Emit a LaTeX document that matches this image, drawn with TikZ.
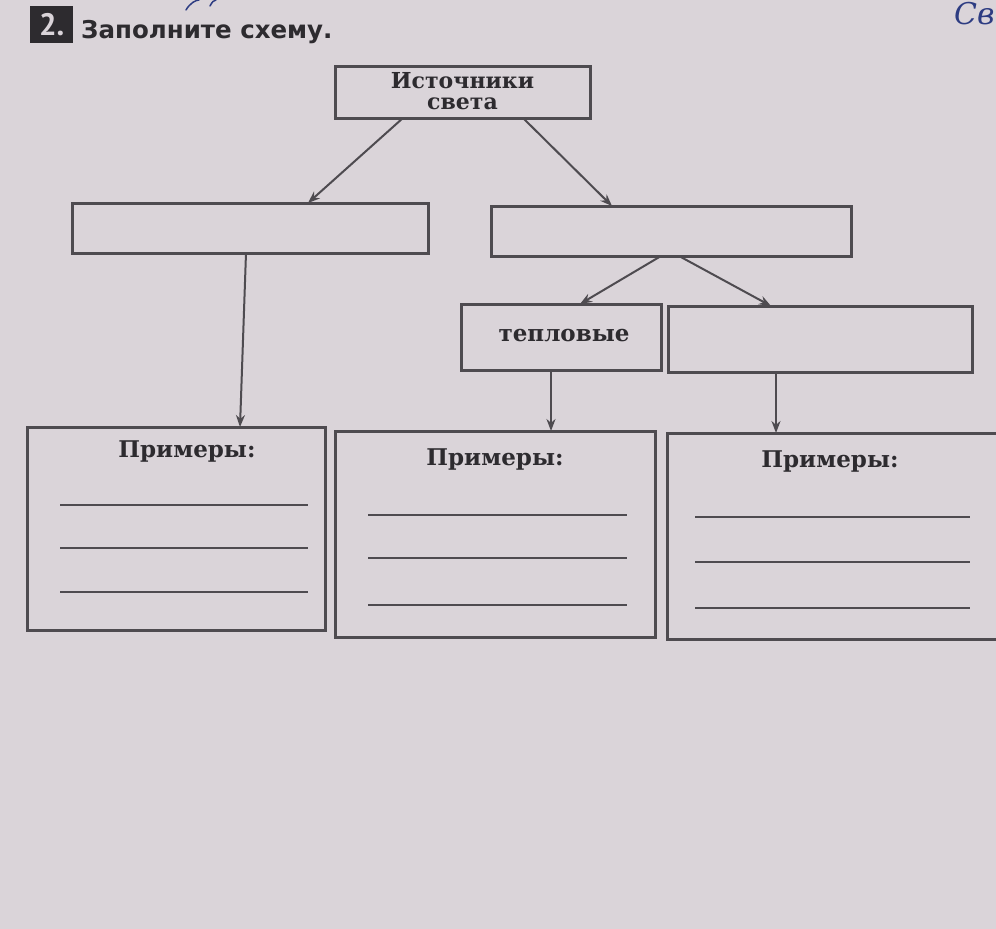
\documentclass[tikz,border=0pt]{standalone}
\usepackage{fontspec}
\setmainfont{DejaVu Serif}
\newfontfamily\titlefont{DejaVu Sans}
\newfontfamily\numfont{PT Sans}
\newfontfamily\handfont{DejaVu Serif}
\usetikzlibrary{arrows.meta,calc}
\definecolor{paper}{RGB}{218,212,217}
\definecolor{ink}{RGB}{45,43,47}
\definecolor{boxline}{RGB}{78,75,80}
\definecolor{pen}{RGB}{45,60,130}
\tikzset{
  box/.style={draw=boxline, line width=3pt, rectangle, inner sep=0pt, outer sep=0pt, anchor=north west},
  arr/.style={draw=boxline, line width=2pt, -{Stealth[length=12pt,width=9pt]}},
  lbl/.style={text=ink, font=\bfseries\fontsize{23}{25}\selectfont, inner sep=0pt},
  fillline/.style={draw=boxline, line width=2pt},
}
\begin{document}
\begin{tikzpicture}[x=1pt,y=-1pt]
\fill[paper] (0,0) rectangle (996,929);
\useasboundingbox (0,0) rectangle (996,929);
% title
\node[fill=ink, minimum width=43pt, minimum height=37pt, inner sep=0pt, anchor=north west, text=paper, font=\numfont\bfseries\fontsize{31}{31}\selectfont] (num) at (30,6) {2.};
\node[anchor=base west, text=ink, font=\titlefont\bfseries\fontsize{24.5}{30}\selectfont, inner sep=0pt] (title) at (81,38) {Заполните схему.};
% handwriting
\node[anchor=base west, text=pen, font=\handfont\itshape\fontsize{30}{30}\selectfont, inner sep=0pt] (hw) at (954,24) {Св};
\draw[pen, line width=1.5pt, line cap=round] (186,10) .. controls (190,3) and (196,0) .. (199,0);
\draw[pen, line width=1.5pt, line cap=round] (210,6) .. controls (212,2) and (214,0) .. (216,0);
% top box
\node[box, minimum width=255pt, minimum height=52pt] (top) at (335,66) {};
\node[lbl, align=center, font=\bfseries\fontsize{22}{21}\selectfont] (toptxt) at ($(top.center)+(0,-1)$) {Источники\\света};
% middle boxes
\node[box, minimum width=356pt, minimum height=50pt] (lm) at (72,203) {};
\node[box, minimum width=360pt, minimum height=50pt] (rm) at (491,206) {};
% third row
\node[box, minimum width=200pt, minimum height=66pt] (tep) at (461,304) {};
\node[lbl] (teptxt) at ($(tep.center)+(3,-1)$) {тепловые};
\node[box, minimum width=304pt, minimum height=66pt] (rs) at (668,306) {};
% bottom boxes
\node[box, minimum width=298pt, minimum height=203pt] (b1) at (27,427) {};
\node[box, minimum width=320pt, minimum height=206pt] (b2) at (335,431) {};
\node[box, minimum width=334pt, minimum height=206pt] (b3) at (667,433) {};
\node[lbl, anchor=north] (p1) at ($(b1.north)+(11,14)$) {Примеры:};
\node[lbl, anchor=north] (p2) at ($(b2.north)+(0,18)$) {Примеры:};
\node[lbl, anchor=north] (p3) at ($(b3.north)+(-4,18)$) {Примеры:};
\foreach \d in {78,121,165}{
  \draw[fillline] ($(b1.north west)+(33,\d)$) -- ($(b1.north west)+(281,\d)$);
}
\foreach \d in {84,127,174}{
  \draw[fillline] ($(b2.north west)+(33,\d)$) -- ($(b2.north west)+(292,\d)$);
}
\foreach \d in {84,129,175}{
  \draw[fillline] ($(b3.north west)+(28,\d)$) -- ($(b3.north west)+(303,\d)$);
}
% arrows
\draw[arr] ($(top.south west)+(68,0)$) -- ($(lm.north west)+(236,0)$);
\draw[arr] ($(top.south west)+(188,0)$) -- ($(rm.north west)+(121,0)$);
\draw[arr] ($(rm.south west)+(170,0)$) -- ($(tep.north west)+(119,0)$);
\draw[arr] ($(rm.south west)+(188,0)$) -- ($(rs.north west)+(103,0)$);
\draw[arr] ($(lm.south west)+(174,0)$) -- ($(b1.north west)+(213,0)$);
\draw[arr] ($(tep.south west)+(90,0)$) -- ($(b2.north west)+(216,0)$);
\draw[arr] ($(rs.south west)+(108,0)$) -- ($(b3.north west)+(109,0)$);
\end{tikzpicture}
\end{document}
